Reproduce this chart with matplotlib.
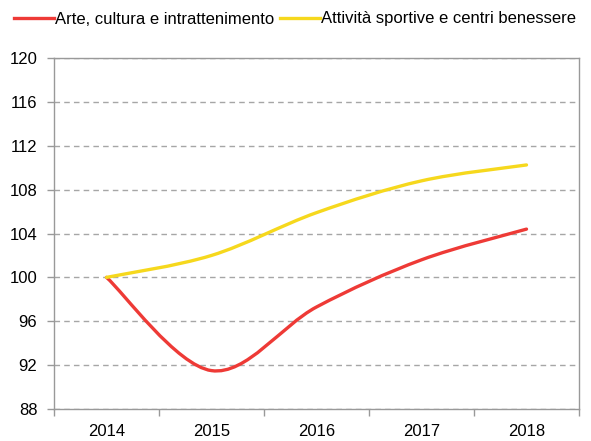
import numpy as np
import matplotlib
matplotlib.use('Agg')
import matplotlib.pyplot as plt
from matplotlib.path import Path
from matplotlib.patches import PathPatch
from matplotlib.lines import Line2D

plt.rcParams['font.family'] = ['Liberation Sans', 'DejaVu Sans']

# Data
years = ['2014', '2015', '2016', '2017', '2018']
arte = [100, 91.5, 97.3, 101.6, 104.4]
sport = [100, 102.0, 105.9, 108.8, 110.25]
labels = ['Arte, cultura e intrattenimento', 'Attività sportive e centri benessere']
colors = ['#ee3a36', '#f6d81d']


def smooth_path(xs, ys):
    # Excel-like smoothed line: cubic bezier through the points (Catmull-Rom)
    pts = np.column_stack([xs, ys]).astype(float)
    n = len(pts)
    verts = [pts[0]]
    codes = [Path.MOVETO]
    for i in range(n - 1):
        p0 = pts[max(i - 1, 0)]
        p1 = pts[i]
        p2 = pts[i + 1]
        p3 = pts[min(i + 2, n - 1)]
        c1 = p1 + (p2 - p0) / 6
        c2 = p2 - (p3 - p1) / 6
        verts += [c1, c2, p2]
        codes += [Path.CURVE4] * 3
    return Path(verts, codes)


fig = plt.figure(figsize=(5.91, 4.41), dpi=100)
ax = fig.add_axes([54 / 591, 32 / 441, 525 / 591, 351 / 441])

x = np.arange(len(years))
for vals, c in zip([arte, sport], colors):
    ax.add_patch(PathPatch(smooth_path(x, vals), facecolor='none', edgecolor=c,
                           lw=2.4, capstyle='round', zorder=3))

ax.set_xlim(-0.5, len(years) - 0.5)
ax.set_ylim(88, 120)
ax.set_yticks(range(88, 121, 4))
ax.set_xticks(x)
ax.set_xticklabels(years)
ax.set_xticks(np.arange(-0.5, len(years), 1), minor=True)
ax.tick_params(axis='x', which='major', length=0, pad=11, labelsize=12)
ax.tick_params(axis='x', which='minor', length=5, color='#999999', width=1)
ax.tick_params(axis='y', length=5, color='#999999', width=1, labelsize=12, pad=7)

ax.yaxis.grid(True, linestyle=(0, (4, 3)), color='#a6a6a6', lw=1)
ax.set_axisbelow(True)
for s in ax.spines.values():
    s.set_color('#999999')
    s.set_linewidth(1)

handles = [Line2D([0], [0], color=c, lw=2.4) for c in colors]
fig.legend(handles, labels, loc='center left', bbox_to_anchor=(14 / 591, 1 - 19 / 441),
           ncol=2, frameon=False, fontsize=12, handlelength=2.4,
           handletextpad=0.08, columnspacing=0.3, borderpad=0, borderaxespad=0)

fig.savefig('out.png', dpi=100)
